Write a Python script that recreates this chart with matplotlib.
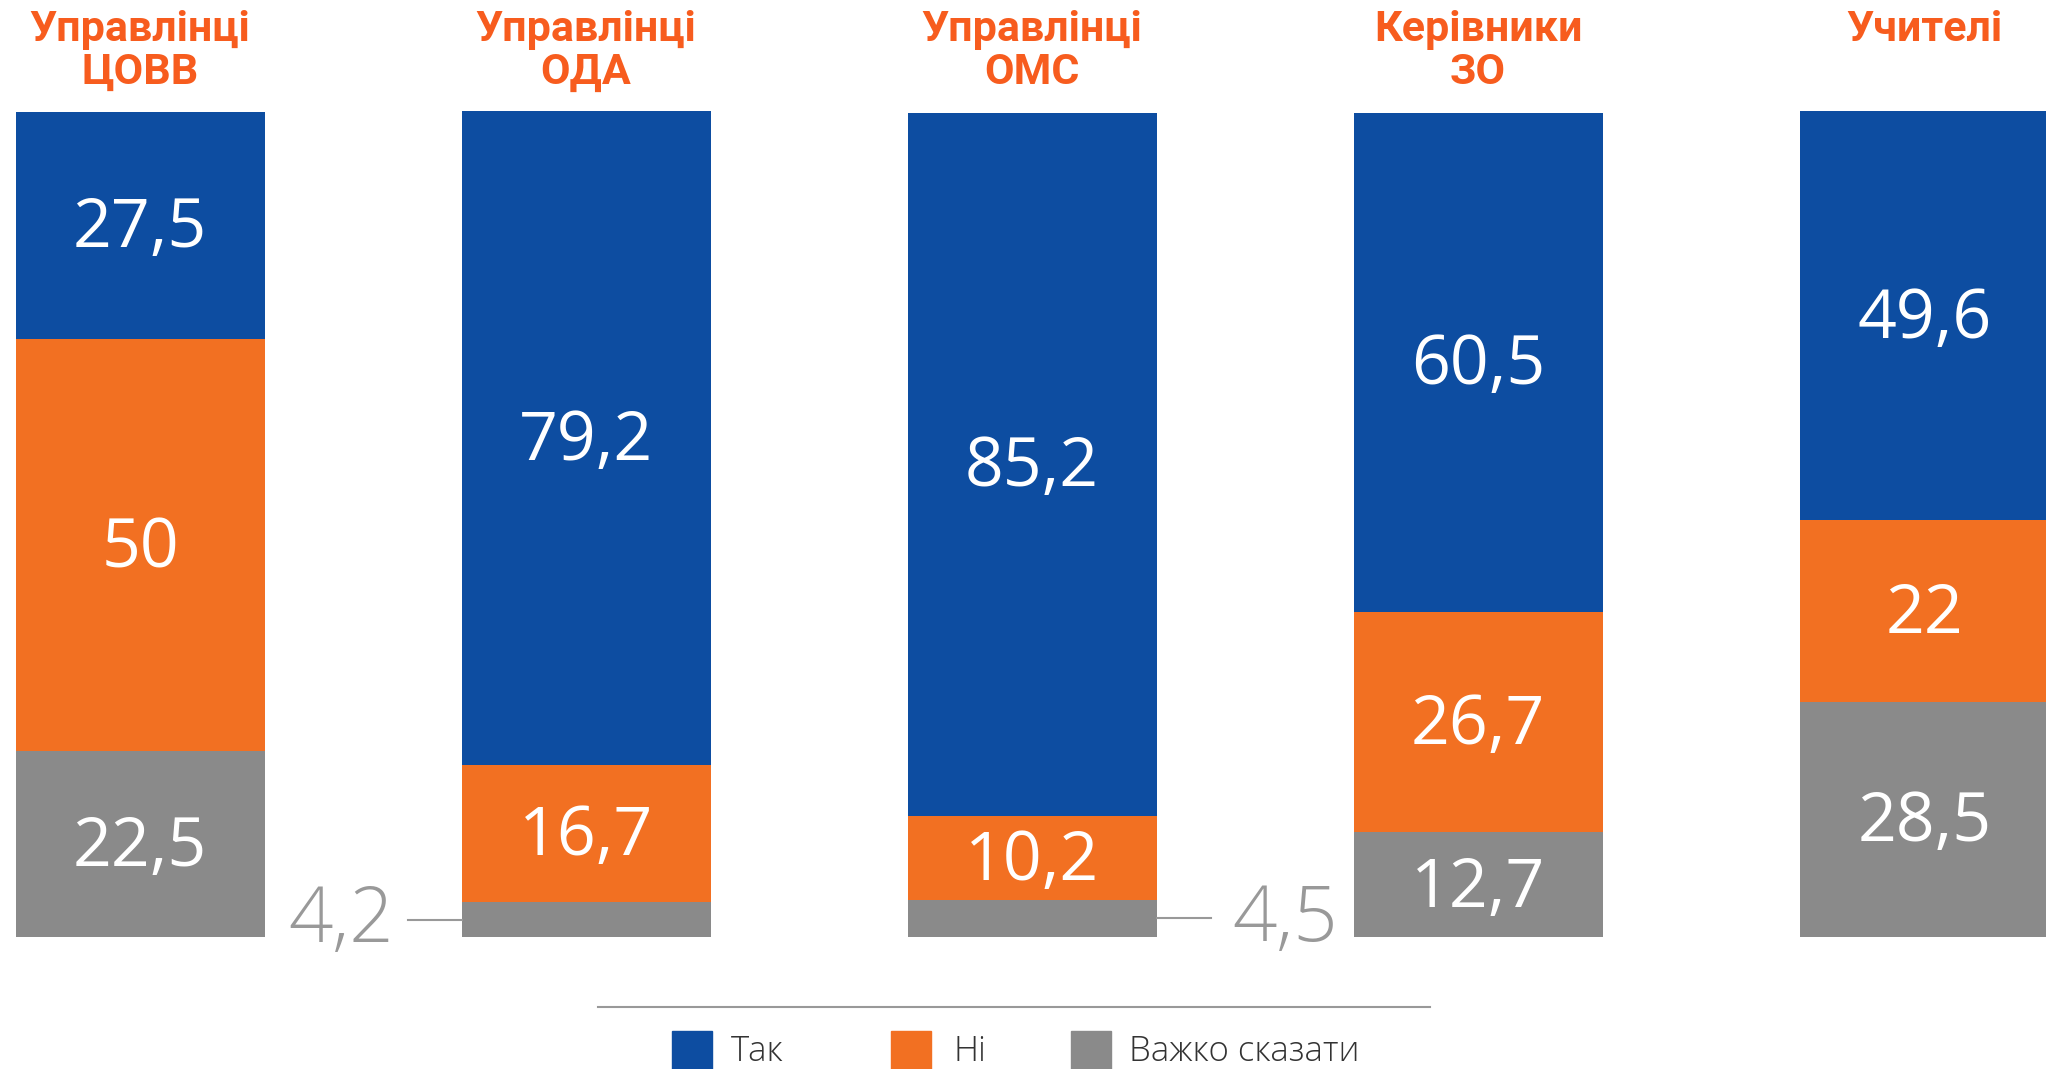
import matplotlib.pyplot as plt
import numpy as np

# дані
groups = ['Управлінці\nЦОВВ', 'Управлінці\nОДА', 'Управлінці\nОМС', 'Керівники\nЗО', 'Учителі']
yes = [27.5, 79.2, 85.2, 60.5, 49.6]
no = [50, 16.7, 10.2, 26.7, 22]
hard = [22.5, 4.2, 4.5, 12.7, 28.5]
legend_labels = ['Так', 'Ні', 'Важко сказати']

c_yes = '#0D4DA1'
c_no = '#F27022'
c_hard = '#8A8A8A'
c_title = '#F75C1E'

fig = plt.figure(figsize=(20.46, 10.69), dpi=100)
fig.patch.set_facecolor('white')
ax = fig.add_axes([0, 0, 1, 1])
ax.set_xlim(-0.314, 4.273)
ax.set_ylim(-16.0, 113.6)
ax.axis('off')

x = np.arange(len(groups))
w = 0.558
hard_a = np.array(hard)
no_a = np.array(no)
yes_a = np.array(yes)

ax.bar(x, hard_a, w, color=c_hard)
ax.bar(x, no_a, w, bottom=hard_a, color=c_no)
ax.bar(x, yes_a, w, bottom=hard_a + no_a, color=c_yes)

val_font = dict(family='Open Sans', fontweight='medium', fontsize=49, color='white',
                ha='center', va='center')

def fmt(v):
    return f'{v:g}'.replace('.', ',')

for i in range(len(groups)):
    ax.text(x[i], hard_a[i] + no_a[i] + yes_a[i] / 2 - 0.5, fmt(yes[i]), **val_font)
    ax.text(x[i], hard_a[i] + no_a[i] / 2 - 0.5, fmt(no[i]), **val_font)
    if hard[i] > 8:
        ax.text(x[i], hard_a[i] / 2 - 0.5, fmt(hard[i]), **val_font)
    ax.text(x[i], 112.5, groups[i], family='Roboto', fontweight='bold', fontsize=31,
            color=c_title, ha='center', va='top', linespacing=1.05)

# малі значення з виносками
small = {1: 'left', 2: 'right'}
for i, side in small.items():
    y = hard_a[i] / 2
    if side == 'left':
        x0 = x[i] - w / 2
        ax.plot([x0 - 0.121, x0], [y, y], color='#999999', lw=1.5)
        tx = x[i] - 0.55
    else:
        x0 = x[i] + w / 2
        ax.plot([x0, x0 + 0.123], [y, y], color='#999999', lw=1.5)
        tx = x[i] + 0.567
    ax.text(tx, y - 0.3, fmt(hard[i]), family='Open Sans', fontweight='light',
            fontsize=56, color='#999999', ha='center', va='center')

# легенда
fig.add_artist(plt.Line2D([0.2923, 0.699], [0.058, 0.058], color='#999999', lw=1.5))
sq_x = [0.3284, 0.4355, 0.5235]
tx_x = [0.3573, 0.4658, 0.5518]
for sx, txx, col, lab in zip(sq_x, tx_x, [c_yes, c_no, c_hard], legend_labels):
    fig.add_artist(plt.Rectangle((sx, -0.02), 0.0196, 0.0555, color=col, transform=fig.transFigure))
    fig.text(txx, 0.016, lab, family='Open Sans', fontweight='light', fontsize=25,
             color='#333333', ha='left', va='center')

plt.savefig('out.png', dpi=100, facecolor='white')
